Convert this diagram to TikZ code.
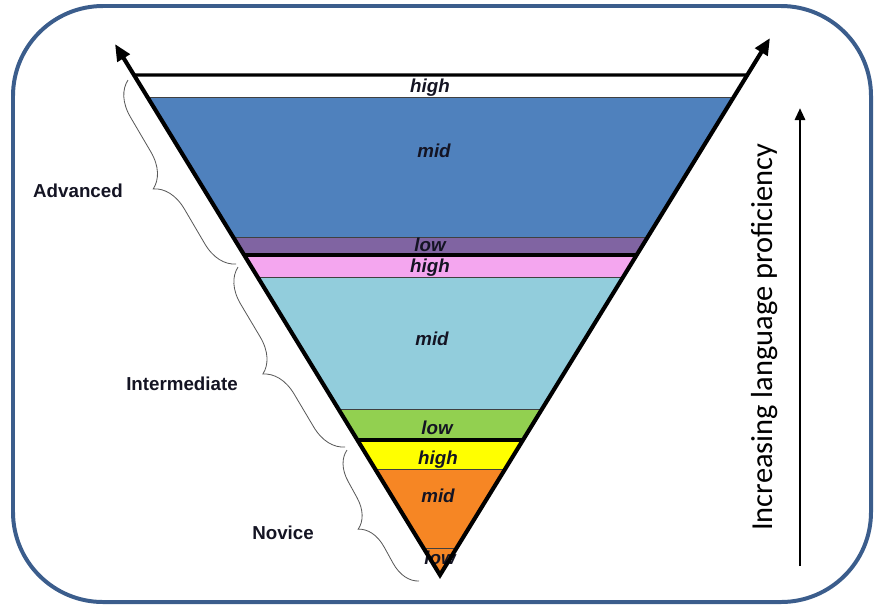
\documentclass[tikz,border=0pt]{standalone}
\usepackage{fontspec}
\setmainfont{Liberation Sans}
\newfontfamily\calibfont{Carlito}
\usetikzlibrary{arrows.meta,calc,decorations.pathreplacing}
\definecolor{framecol}{RGB}{59,93,140}
\definecolor{advmid}{RGB}{79,129,189}
\definecolor{advlow}{RGB}{128,100,162}
\definecolor{inthigh}{RGB}{244,166,239}
\definecolor{intmid}{RGB}{146,205,220}
\definecolor{intlow}{RGB}{146,208,80}
\definecolor{novhigh}{RGB}{255,255,0}
\definecolor{novmid}{RGB}{246,134,36}
\definecolor{labeltext}{RGB}{20,20,35}

\tikzset{
  sublevel/.style={font=\fontsize{16}{19}\selectfont\bfseries\itshape, text=labeltext, inner sep=0pt},
  level/.style={font=\fontsize{16}{19}\selectfont\bfseries, text=labeltext, inner sep=0pt},
  bandline/.style={black!75, line width=0.8pt},
  sepline/.style={black, line width=3.2pt},
  levelbrace/.style={decorate, decoration={brace, amplitude=#1}, black!65, line width=0.7pt},
  levelbrace/.default=1cm,
}

\begin{document}
\begin{tikzpicture}[x=0.03cm, y=-0.03cm]
  \useasboundingbox (0,0) rectangle (881,605);
  \def\xl{0};
  \def\xr{881};
  % frame
  \draw[framecol, line width=3.4pt, rounded corners=2.7cm] (13,6) rectangle (871,602);
  % triangle corners
  \coordinate (apex) at (440,575);
  \coordinate (ltip) at (115,44);
  \coordinate (rtip) at (770,38);
  \coordinate (ltop) at ($(apex)!500/531!(ltip)$);
  \coordinate (rtop) at ($(apex)!500/537!(rtip)$);
  % bands
  \begin{scope}
    \clip (apex) -- (ltop) -- (rtop) -- cycle;
    \fill[advmid] (\xl,97) rectangle (\xr,237);
    \fill[advlow] (\xl,237) rectangle (\xr,255);
    \fill[inthigh] (\xl,255) rectangle (\xr,277);
    \fill[intmid] (\xl,277) rectangle (\xr,409);
    \fill[intlow] (\xl,409) rectangle (\xr,440);
    \fill[novhigh] (\xl,440) rectangle (\xr,469);
    \fill[novmid] (\xl,469) rectangle (\xr,580);
    \foreach \y in {97,237,277,409,469,548}
      \draw[bandline] (\xl,\y) -- (\xr,\y);
    \draw[sepline] (\xl,255) -- (\xr,255);
    \draw[sepline] (\xl,440) -- (\xr,440);
  \end{scope}
  \draw[line width=2.8pt] (ltop) -- (rtop);
  % sublevels
  \node[sublevel] (advhigh) at (430,88) {high};
  \node[sublevel] (advmidtxt) at (434,151) {mid};
  \node[sublevel] (advlowtxt) at (430,245) {low};
  \node[sublevel] (inthightxt) at (430,268) {high};
  \node[sublevel] (intmidtxt) at (432,339) {mid};
  \node[sublevel] (intlowtxt) at (437,428) {low};
  \node[sublevel] (novhightxt) at (438,460) {high};
  \node[sublevel] (novmidtxt) at (438,496) {mid};
  \node[sublevel] (novlowtxt) at (440,558) {low};
  % sides of the triangle
  \draw[line width=3.5pt, line join=miter,
    {Triangle[length=0.5cm,width=0.42cm]}-{Triangle[length=0.5cm,width=0.42cm]}]
    (ltip) -- (apex) -- (rtip);
  % levels
  \coordinate (advtop) at (128,80);
  \coordinate (advbot) at (236,264);
  \coordinate (inttop) at (238,267);
  \coordinate (intbot) at (345,447);
  \coordinate (novtop) at (347,450);
  \coordinate (novbot) at (419,581);
  \draw[levelbrace] (advbot) -- (advtop);
  \draw[levelbrace] (intbot) -- (inttop);
  \draw[levelbrace=0.85cm] (novbot) -- (novtop);
  \node[level] (advanced) at (78,191) {Advanced};
  \node[level] (intermediate) at (182,384) {Intermediate};
  \node[level] (novice) at (283,533) {Novice};
  % proficiency arrow
  \coordinate (pbot) at (800,566);
  \coordinate (ptop) at (800,108);
  \draw[line width=2.4pt, -{Triangle[length=0.36cm,width=0.3cm]}] (pbot) -- (ptop);
  \node[rotate=90, inner sep=0pt, font=\calibfont\fontsize{26}{30}\selectfont] (proficiency) at (765,337) {Increasing language proficiency};
\end{tikzpicture}
\end{document}
